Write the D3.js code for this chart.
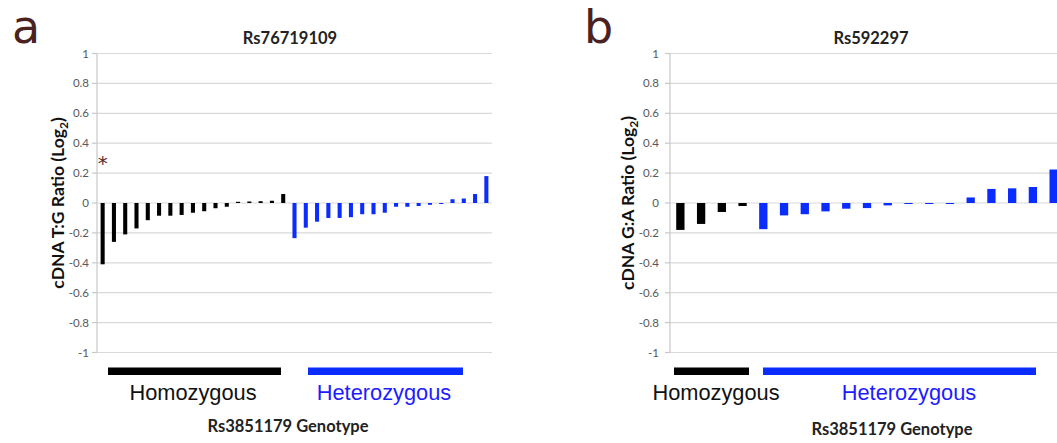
<!DOCTYPE html>
<html><head><meta charset="utf-8">
<script src="https://cdn.jsdelivr.net/npm/d3@7/dist/d3.min.js"></script>
<style>body{margin:0;background:#fff}svg{display:block}</style>
</head><body>
<svg id="c" width="1057" height="443"></svg>
<script>
// Panel a: Rs76719109
const aHomo = [-0.41,-0.26,-0.21,-0.17,-0.115,-0.085,-0.085,-0.08,-0.065,-0.055,-0.035,-0.025,0.008,0.01,0.012,0.015,0.06];
const aHetero = [-0.235,-0.165,-0.125,-0.10,-0.10,-0.095,-0.075,-0.075,-0.065,-0.025,-0.025,-0.02,-0.012,-0.004,0.025,0.03,0.06,0.18];
// Panel b: Rs592297
const bHomo = [-0.18,-0.14,-0.06,-0.02];
const bHetero = [-0.175,-0.083,-0.075,-0.056,-0.038,-0.034,-0.016,-0.004,-0.004,-0.004,0.037,0.094,0.098,0.107,0.224];
const yTicks = [1,0.8,0.6,0.4,0.2,0,-0.2,-0.4,-0.6,-0.8,-1];
const titles = ["Rs76719109","Rs592297"];
const yLabels = [["cDNA T:G Ratio (Log","2",")"],["cDNA G:A Ratio (Log","2",")"]];
const groupNames = ["Homozygous","Heterozygous"];
const xTitle = "Rs3851179 Genotype";
const letters = ["a","b"];

const svg = d3.select("#c");
const BLACK = "#000", BLUE = "#0a2cff", TEXTBLUE = "#1c1cff";
const FONT = "Lato, 'Open Sans', sans-serif";

const panels = [
  {homo:aHomo, het:aHetero, x0:97, x1:492, gridEnd:492, tickX:89, ylabX:58, pad:0.64,
   title:titles[0], titleX:290, ylab:yLabels[0], letter:letters[0], letterX:12,
   homoBar:[108,281], hetBar:[308,463], homoText:193, hetText:384, xTitleX:288, xTitleY:432, star:true},
  {homo:bHomo, het:bHetero, x0:670, x1:1064, gridEnd:1057, tickX:659, ylabX:628, pad:0.6,
   title:titles[1], titleX:871, ylab:yLabels[1], letter:letters[1], letterX:584,
   homoBar:[674,749], hetBar:[763,1036], homoText:716, hetText:909, xTitleX:892, xTitleY:435, star:false}
];

const y = d3.scaleLinear().domain([-1,1]).range([352.5,53.5]);

panels.forEach((p,pi)=>{
  const g = svg.append("g");
  const vals = p.homo.map((v,i)=>({v, c:BLACK, k:"h"+i})).concat(p.het.map((v,i)=>({v, c:BLUE, k:"e"+i})));
  const x = d3.scaleBand().domain(vals.map(d=>d.k)).range([p.x0,p.x1]).paddingInner(p.pad).paddingOuter(p.pad/2);

  // gridlines
  g.selectAll(".grid").data(yTicks).enter().append("line")
    .attr("x1",p.x0).attr("x2",p.gridEnd).attr("y1",d=>y(d)).attr("y2",d=>y(d))
    .attr("stroke","#d9d9d9").attr("stroke-width",1.2);
  // axis line + ticks
  g.append("line").attr("x1",p.x0).attr("x2",p.x0).attr("y1",y(1)).attr("y2",y(-1))
    .attr("stroke","#c8c8c8").attr("stroke-width",1.2);
  g.selectAll(".tk").data(yTicks).enter().append("line")
    .attr("x1",p.x0-5).attr("x2",p.x0).attr("y1",d=>y(d)).attr("y2",d=>y(d))
    .attr("stroke","#c8c8c8").attr("stroke-width",1.2);
  g.selectAll(".tl").data(yTicks).enter().append("text")
    .attr("x",p.tickX).attr("y",d=>y(d)+4).attr("text-anchor","end")
    .attr("font-family",FONT).attr("font-size",11.5).attr("fill","#595959")
    .text(d=>String(d));

  // bars
  g.selectAll(".bar").data(vals).enter().append("rect")
    .attr("x",d=>x(d.k)).attr("width",x.bandwidth())
    .attr("y",d=>y(Math.max(0,d.v))).attr("height",d=>Math.max(1,Math.abs(y(d.v)-y(0))))
    .attr("fill",d=>d.c);

  // title
  g.append("text").attr("x",p.titleX).attr("y",44).attr("text-anchor","middle")
    .attr("font-family",FONT).attr("font-weight","bold").attr("font-size",16.5).attr("fill","#222")
    .text(p.title);

  // y label
  const yl = g.append("text").attr("transform",`translate(${p.ylabX},${y(0)}) rotate(-90)`)
    .attr("text-anchor","middle").attr("dy","0.35em")
    .attr("font-family",FONT).attr("font-weight","bold").attr("font-size",17.5).attr("fill","#111");
  yl.append("tspan").text(p.ylab[0]);
  yl.append("tspan").attr("font-size",12).attr("dy",4).text(p.ylab[1]);
  yl.append("tspan").attr("dy",-4).text(p.ylab[2]);

  // panel letter
  g.append("text").attr("x",p.letterX).attr("y",43)
    .attr("font-family","'DejaVu Sans', sans-serif").attr("font-size",46).attr("fill","#4a2222")
    .text(p.letter);

  // group brackets
  g.append("rect").attr("x",p.homoBar[0]).attr("width",p.homoBar[1]-p.homoBar[0]).attr("y",367.5).attr("height",7.5).attr("fill",BLACK);
  g.append("rect").attr("x",p.hetBar[0]).attr("width",p.hetBar[1]-p.hetBar[0]).attr("y",367.5).attr("height",7.5).attr("fill",BLUE);
  g.append("text").attr("x",p.homoText).attr("y",400).attr("text-anchor","middle")
    .attr("font-family","'Liberation Sans', Arial, sans-serif").attr("font-size",21.8).attr("fill","#111").text(groupNames[0]);
  g.append("text").attr("x",p.hetText).attr("y",400).attr("text-anchor","middle")
    .attr("font-family","'Liberation Sans', Arial, sans-serif").attr("font-size",21.8).attr("fill",TEXTBLUE).text(groupNames[1]);
  g.append("text").attr("x",p.xTitleX).attr("y",p.xTitleY).attr("text-anchor","middle")
    .attr("font-family",FONT).attr("font-weight","bold").attr("font-size",16.5).attr("fill","#222").text(xTitle);

  if(p.star){
    g.append("text").attr("x",x("h0")+x.bandwidth()/2).attr("y",170).attr("text-anchor","middle")
      .attr("font-family","'DejaVu Sans', sans-serif").attr("font-size",20).attr("fill","#5a2a2a").text("*");
  }
});
</script>
</body></html>
